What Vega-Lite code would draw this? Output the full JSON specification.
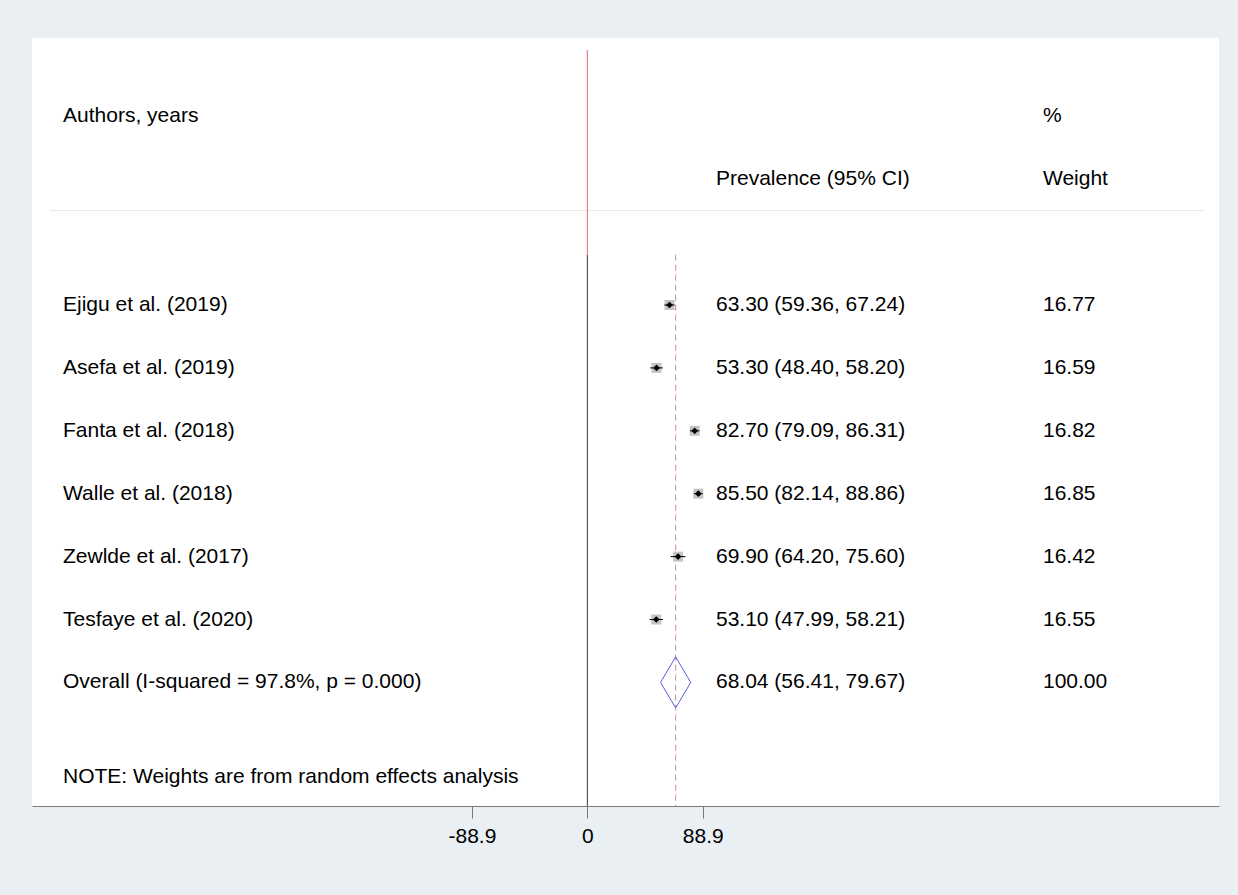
{
  "$schema": "https://vega.github.io/schema/vega-lite/v6.json",
  "width": 1187,
  "height": 768,
  "autosize": {"type": "none"},
  "padding": {"left": 32, "top": 38, "right": 19, "bottom": 89},
  "background": "#e9eff2",
  "view": {"fill": "white", "stroke": null},
  "config": {
    "font": "Liberation Sans",
    "text": {"font": "Liberation Sans", "fontSize": 21, "color": "black", "align": "left", "baseline": "middle"},
    "axis": {
      "grid": false,
      "domainColor": "#7a7a7a",
      "tickColor": "#7a7a7a",
      "tickSize": 12,
      "labelFont": "Liberation Sans",
      "labelFontSize": 21,
      "labelColor": "black",
      "labelPadding": 7,
      "labelFlush": false,
      "labelOverlap": false
    }
  },
  "datasets": {
    "studies": [
      {"row": 1, "study": "Ejigu et al. (2019)", "est": 63.30, "lo": 59.36, "hi": 67.24, "ci": "63.30 (59.36, 67.24)", "weight": "16.77"},
      {"row": 2, "study": "Asefa et al. (2019)", "est": 53.30, "lo": 48.40, "hi": 58.20, "ci": "53.30 (48.40, 58.20)", "weight": "16.59"},
      {"row": 3, "study": "Fanta et al. (2018)", "est": 82.70, "lo": 79.09, "hi": 86.31, "ci": "82.70 (79.09, 86.31)", "weight": "16.82"},
      {"row": 4, "study": "Walle et al. (2018)", "est": 85.50, "lo": 82.14, "hi": 88.86, "ci": "85.50 (82.14, 88.86)", "weight": "16.85"},
      {"row": 5, "study": "Zewlde et al. (2017)", "est": 69.90, "lo": 64.20, "hi": 75.60, "ci": "69.90 (64.20, 75.60)", "weight": "16.42"},
      {"row": 6, "study": "Tesfaye et al. (2020)", "est": 53.10, "lo": 47.99, "hi": 58.21, "ci": "53.10 (47.99, 58.21)", "weight": "16.55"}
    ],
    "overall": [
      {"row": 7, "study": "Overall (I-squared = 97.8%, p = 0.000)", "est": 68.04, "lo": 56.41, "hi": 79.67, "ci": "68.04 (56.41, 79.67)", "weight": "100.00"}
    ],
    "labelColumn": [
      {"row": -2, "txt": "Authors, years"},
      {"row": 8.5, "txt": "NOTE: Weights are from random effects analysis"}
    ],
    "ciColumn": [
      {"row": -1, "txt": "Prevalence (95% CI)"}
    ],
    "weightColumn": [
      {"row": -2, "txt": "%"},
      {"row": -1, "txt": "Weight"}
    ]
  },
  "layer": [
    {
      "data": {"values": [{}]},
      "mark": {"type": "rule", "color": "#e6e6e6", "strokeWidth": 1},
      "encoding": {
        "x": {"datum": -413.9, "type": "quantitative", "scale": {"domain": [-427.8, 486.6], "nice": false, "zero": false}, "axis": {"title": null, "values": [-88.9, 0, 88.9], "labelExpr": "toString(datum.value)"}},
        "x2": {"datum": 475.8},
        "y": {"datum": -0.5, "type": "quantitative", "scale": {"domain": [-3.245, 8.965], "reverse": true, "nice": false, "zero": false}, "axis": null}
      }
    },
    {
      "data": {"values": [{}]},
      "mark": {"type": "rule", "color": "#e46a6a", "strokeWidth": 1},
      "encoding": {
        "x": {"datum": 0, "type": "quantitative"},
        "y": {"datum": -3.054, "type": "quantitative"},
        "y2": {"datum": 0.205}
      }
    },
    {
      "data": {"values": [{}]},
      "mark": {"type": "rule", "color": "#4e2e2e", "strokeWidth": 1},
      "encoding": {
        "x": {"datum": 0, "type": "quantitative"},
        "y": {"datum": 0.205, "type": "quantitative"},
        "y2": {"datum": 8.965}
      }
    },
    {
      "data": {"name": "overall"},
      "mark": {"type": "rule", "color": "#c48f9a", "strokeWidth": 1, "strokeDash": [6, 4]},
      "encoding": {
        "x": {"field": "est", "type": "quantitative"},
        "y": {"datum": 0.2, "type": "quantitative"},
        "y2": {"datum": 8.965}
      }
    },
    {
      "data": {"name": "studies"},
      "mark": {"type": "point", "shape": "square", "filled": true, "color": "#c4c4c4", "opacity": 1, "size": 100},
      "encoding": {
        "x": {"field": "est", "type": "quantitative"},
        "y": {"field": "row", "type": "quantitative"}
      }
    },
    {
      "data": {"name": "studies"},
      "mark": {"type": "rule", "color": "black", "strokeWidth": 1},
      "encoding": {
        "x": {"field": "lo", "type": "quantitative"},
        "x2": {"field": "hi"},
        "y": {"field": "row", "type": "quantitative"}
      }
    },
    {
      "data": {"name": "studies"},
      "mark": {"type": "point", "shape": "diamond", "filled": true, "color": "black", "opacity": 1, "size": 45},
      "encoding": {
        "x": {"field": "est", "type": "quantitative"},
        "y": {"field": "row", "type": "quantitative"}
      }
    },
    {
      "data": {"name": "overall"},
      "mark": {"type": "rule", "color": "#5b5bdc", "strokeWidth": 1, "y2Offset": -25.5},
      "encoding": {
        "x": {"field": "lo", "type": "quantitative"},
        "x2": {"field": "est"},
        "y": {"field": "row", "type": "quantitative"},
        "y2": {"field": "row"}
      }
    },
    {
      "data": {"name": "overall"},
      "mark": {"type": "rule", "color": "#5b5bdc", "strokeWidth": 1, "y2Offset": 25.5},
      "encoding": {
        "x": {"field": "lo", "type": "quantitative"},
        "x2": {"field": "est"},
        "y": {"field": "row", "type": "quantitative"},
        "y2": {"field": "row"}
      }
    },
    {
      "data": {"name": "overall"},
      "mark": {"type": "rule", "color": "#5b5bdc", "strokeWidth": 1, "y2Offset": -25.5},
      "encoding": {
        "x": {"field": "hi", "type": "quantitative"},
        "x2": {"field": "est"},
        "y": {"field": "row", "type": "quantitative"},
        "y2": {"field": "row"}
      }
    },
    {
      "data": {"name": "overall"},
      "mark": {"type": "rule", "color": "#5b5bdc", "strokeWidth": 1, "y2Offset": 25.5},
      "encoding": {
        "x": {"field": "hi", "type": "quantitative"},
        "x2": {"field": "est"},
        "y": {"field": "row", "type": "quantitative"},
        "y2": {"field": "row"}
      }
    },
    {
      "data": {"name": "studies"},
      "mark": {"type": "text"},
      "encoding": {
        "x": {"datum": -403.9, "type": "quantitative"},
        "y": {"field": "row", "type": "quantitative"},
        "text": {"field": "study"}
      }
    },
    {
      "data": {"name": "overall"},
      "mark": {"type": "text"},
      "encoding": {
        "x": {"datum": -403.9, "type": "quantitative"},
        "y": {"field": "row", "type": "quantitative"},
        "text": {"field": "study"}
      }
    },
    {
      "data": {"name": "labelColumn"},
      "mark": {"type": "text"},
      "encoding": {
        "x": {"datum": -403.9, "type": "quantitative"},
        "y": {"field": "row", "type": "quantitative"},
        "text": {"field": "txt"}
      }
    },
    {
      "data": {"name": "studies"},
      "mark": {"type": "text"},
      "encoding": {
        "x": {"datum": 99.1, "type": "quantitative"},
        "y": {"field": "row", "type": "quantitative"},
        "text": {"field": "ci"}
      }
    },
    {
      "data": {"name": "overall"},
      "mark": {"type": "text"},
      "encoding": {
        "x": {"datum": 99.1, "type": "quantitative"},
        "y": {"field": "row", "type": "quantitative"},
        "text": {"field": "ci"}
      }
    },
    {
      "data": {"name": "ciColumn"},
      "mark": {"type": "text"},
      "encoding": {
        "x": {"datum": 99.1, "type": "quantitative"},
        "y": {"field": "row", "type": "quantitative"},
        "text": {"field": "txt"}
      }
    },
    {
      "data": {"name": "studies"},
      "mark": {"type": "text"},
      "encoding": {
        "x": {"datum": 351.0, "type": "quantitative"},
        "y": {"field": "row", "type": "quantitative"},
        "text": {"field": "weight"}
      }
    },
    {
      "data": {"name": "overall"},
      "mark": {"type": "text"},
      "encoding": {
        "x": {"datum": 351.0, "type": "quantitative"},
        "y": {"field": "row", "type": "quantitative"},
        "text": {"field": "weight"}
      }
    },
    {
      "data": {"name": "weightColumn"},
      "mark": {"type": "text"},
      "encoding": {
        "x": {"datum": 351.0, "type": "quantitative"},
        "y": {"field": "row", "type": "quantitative"},
        "text": {"field": "txt"}
      }
    }
  ]
}
